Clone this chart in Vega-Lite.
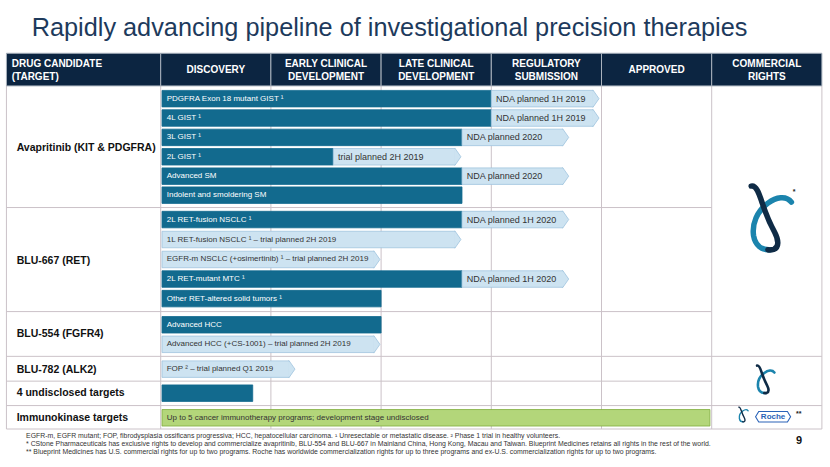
{
  "$schema": "https://vega.github.io/schema/vega-lite/v6.json",
  "width": 830,
  "height": 467,
  "padding": 0,
  "autosize": {"type": "fit", "contains": "padding"},
  "background": "white",
  "config": {
    "view": {"stroke": null},
    "axis": {"disable": true},
    "font": "Liberation Sans",
    "text": {"font": "Liberation Sans"}
  },
  "datasets": {
    "bars": [
      {"r": 0.5, "s": 0.012, "s2": 3.0, "kind": "active", "label": "PDGFRA Exon 18 mutant GIST ¹"},
      {"r": 0.5, "s": 3.0, "s2": 3.925, "kind": "next", "label": "NDA planned 1H 2019"},
      {"r": 1.5, "s": 0.012, "s2": 3.0, "kind": "active", "label": "4L GIST ¹"},
      {"r": 1.5, "s": 3.0, "s2": 3.925, "kind": "next", "label": "NDA planned 1H 2019"},
      {"r": 2.5, "s": 0.012, "s2": 2.734, "kind": "active", "label": "3L GIST ¹"},
      {"r": 2.5, "s": 2.734, "s2": 3.65, "kind": "next", "label": "NDA planned 2020"},
      {"r": 3.5, "s": 0.012, "s2": 1.566, "kind": "active", "label": "2L GIST ¹"},
      {"r": 3.5, "s": 1.566, "s2": 2.672, "kind": "next", "label": "trial planned 2H 2019"},
      {"r": 4.5, "s": 0.012, "s2": 2.734, "kind": "active", "label": "Advanced SM"},
      {"r": 4.5, "s": 2.734, "s2": 3.65, "kind": "next", "label": "NDA planned 2020"},
      {"r": 5.48, "s": 0.012, "s2": 2.734, "kind": "active", "label": "Indolent and smoldering SM"},
      {"r": 6.74, "s": 0.012, "s2": 2.734, "kind": "active", "label": "2L RET-fusion NSCLC ¹"},
      {"r": 6.74, "s": 2.734, "s2": 3.65, "kind": "next", "label": "NDA planned 1H 2020"},
      {"r": 7.77, "s": 0.012, "s2": 2.672, "kind": "planned", "label": "1L RET-fusion NSCLC ¹ – trial planned 2H 2019"},
      {"r": 8.8, "s": 0.012, "s2": 1.937, "kind": "planned", "label": "EGFR-m NSCLC (+osimertinib) ¹ – trial planned 2H 2019"},
      {"r": 9.81, "s": 0.012, "s2": 2.734, "kind": "active", "label": "2L RET-mutant MTC ¹"},
      {"r": 9.81, "s": 2.734, "s2": 3.65, "kind": "next", "label": "NDA planned 1H 2020"},
      {"r": 10.82, "s": 0.012, "s2": 2.0, "kind": "active", "label": "Other RET-altered solid tumors ¹"},
      {"r": 12.17, "s": 0.012, "s2": 2.0, "kind": "active", "label": "Advanced HCC"},
      {"r": 13.18, "s": 0.012, "s2": 1.937, "kind": "planned", "label": "Advanced HCC (+CS-1001) – trial planned 2H 2019"},
      {"r": 14.46, "s": 0.012, "s2": 1.166, "kind": "planned", "label": "FOP ² – trial planned Q1 2019"},
      {"r": 15.7, "s": 0.012, "s2": 0.835, "kind": "active", "label": ""},
      {"r": 16.97, "s": 0.012, "s2": 4.984, "kind": "immuno", "label": "Up to 5 cancer immunotherapy programs; development stage undisclosed"}
    ],
    "headers": [
      {"s": -1.4, "s2": 0, "c": -1.352, "lines": 2, "label": "DRUG CANDIDATE\n(TARGET)"},
      {"s": 0, "s2": 1, "c": 0.5, "lines": 1, "label": "DISCOVERY"},
      {"s": 1, "s2": 2, "c": 1.5, "lines": 2, "label": "EARLY CLINICAL\nDEVELOPMENT"},
      {"s": 2, "s2": 3, "c": 2.5, "lines": 2, "label": "LATE CLINICAL\nDEVELOPMENT"},
      {"s": 3, "s2": 4, "c": 3.5, "lines": 2, "label": "REGULATORY\nSUBMISSION"},
      {"s": 4, "s2": 5, "c": 4.5, "lines": 1, "label": "APPROVED"},
      {"s": 5, "s2": 6, "c": 5.5, "lines": 2, "label": "COMMERCIAL\nRIGHTS"}
    ],
    "grid": [
      {"s": -1.4, "s2": -1.4, "r": -0.157, "r2": 17.55},
      {"s": 0, "s2": 0, "r": -0.157, "r2": 17.55},
      {"s": 1, "s2": 1, "r": -0.157, "r2": 17.55},
      {"s": 2, "s2": 2, "r": -0.157, "r2": 17.55},
      {"s": 3, "s2": 3, "r": -0.157, "r2": 17.55},
      {"s": 4, "s2": 4, "r": -0.157, "r2": 17.55},
      {"s": 5, "s2": 5, "r": -0.157, "r2": 17.55},
      {"s": 6, "s2": 6, "r": -0.157, "r2": 17.55},
      {"s": -1.4, "s2": 5, "r": 6.12, "r2": 6.12},
      {"s": -1.4, "s2": 5, "r": 11.49, "r2": 11.49},
      {"s": -1.4, "s2": 6, "r": 13.8, "r2": 13.8},
      {"s": -1.4, "s2": 5, "r": 15.08, "r2": 15.08},
      {"s": -1.4, "s2": 6, "r": 16.34, "r2": 16.34},
      {"s": -1.4, "s2": 6, "r": 17.55, "r2": 17.55}
    ],
    "drugs": [
      {"r": 3.05, "label": "Avapritinib (KIT & PDGFRA)"},
      {"r": 8.88, "label": "BLU-667 (RET)"},
      {"r": 12.67, "label": "BLU-554 (FGFR4)"},
      {"r": 14.49, "label": "BLU-782 (ALK2)"},
      {"r": 15.7, "label": "4 undisclosed targets"},
      {"r": 16.97, "label": "Immunokinase targets"}
    ],
    "notes": [
      {"r": 17.92, "label": "EGFR-m, EGFR mutant; FOP, fibrodysplasia ossificans progressiva; HCC, hepatocellular carcinoma. ¹ Unresectable or metastatic disease. ² Phase 1 trial in healthy volunteers."},
      {"r": 18.34, "label": "* CStone Pharmaceuticals has exclusive rights to develop and commercialize avapritinib, BLU-554 and BLU-667 in Mainland China, Hong Kong, Macau and Taiwan. Blueprint Medicines retains all rights in the rest of the world."},
      {"r": 18.76, "label": "** Blueprint Medicines has U.S. commercial rights for up to two programs. Roche has worldwide commercialization rights for up to three programs and ex-U.S. commercialization rights for up to two programs."}
    ],
    "logos": [
      {"s": 5.547, "r": 6.62, "logo": "large"},
      {"s": 5.493, "r": 14.97, "logo": "medium"},
      {"s": 5.29, "r": 16.79, "logo": "small"}
    ]
  },
  "layer": [
    {
      "data": {"name": "grid"},
      "mark": {"type": "rule", "stroke": "#cbc2c8", "strokeWidth": 1},
      "encoding": {
        "x": {"field": "s", "type": "quantitative", "scale": {"domain": [-1.4583, 6.0735], "nice": false, "zero": false}},
        "x2": {"field": "s2"},
        "y": {"field": "r", "type": "quantitative", "scale": {"domain": [-4.3333, 19.2525], "nice": false, "zero": false, "reverse": true}},
        "y2": {"field": "r2"}
      }
    },
    {
      "data": {"name": "headers"},
      "mark": {"type": "rect", "fill": "#0c2541", "stroke": "#a9b2bd", "strokeWidth": 1},
      "encoding": {
        "x": {"field": "s", "type": "quantitative"},
        "x2": {"field": "s2"},
        "y": {"datum": -1.843, "type": "quantitative"},
        "y2": {"datum": -0.157}
      }
    },
    {
      "data": {"name": "headers"},
      "transform": [{"filter": "datum.s < 0"}],
      "mark": {"type": "text", "align": "left", "baseline": "middle", "fill": "white", "fontSize": 10, "fontWeight": "bold", "lineBreak": "\n", "lineHeight": 12.6},
      "encoding": {
        "x": {"field": "c", "type": "quantitative"},
        "y": {"datum": -1.27, "type": "quantitative"},
        "text": {"field": "label"}
      }
    },
    {
      "data": {"name": "headers"},
      "transform": [{"filter": "datum.s >= 0 && datum.lines == 2"}],
      "mark": {"type": "text", "align": "center", "baseline": "middle", "fill": "white", "fontSize": 10, "fontWeight": "bold", "lineBreak": "\n", "lineHeight": 12.6},
      "encoding": {
        "x": {"field": "c", "type": "quantitative"},
        "y": {"datum": -1.27, "type": "quantitative"},
        "text": {"field": "label"}
      }
    },
    {
      "data": {"name": "headers"},
      "transform": [{"filter": "datum.lines == 1"}],
      "mark": {"type": "text", "align": "center", "baseline": "middle", "fill": "white", "fontSize": 10, "fontWeight": "bold"},
      "encoding": {
        "x": {"field": "c", "type": "quantitative"},
        "y": {"datum": -0.99, "type": "quantitative"},
        "text": {"field": "label"}
      }
    },
    {
      "data": {"name": "bars"},
      "mark": {"type": "bar", "orient": "horizontal", "size": 16.5, "strokeWidth": 0.8},
      "encoding": {
        "x": {"field": "s", "type": "quantitative"},
        "x2": {"field": "s2"},
        "y": {"field": "r", "type": "quantitative"},
        "fill": {"field": "kind", "type": "nominal", "legend": null, "scale": {"domain": ["active", "planned", "next", "immuno"], "range": ["#126a8e", "#cde3f1", "#cde3f1", "#b3d67a"]}},
        "stroke": {"field": "kind", "type": "nominal", "legend": null, "scale": {"domain": ["active", "planned", "next", "immuno"], "range": ["#126a8e", "#9fc4de", "#9fc4de", "#80ad3e"]}}
      }
    },
    {
      "data": {"name": "bars"},
      "transform": [{"filter": "datum.kind == 'next' || datum.kind == 'planned'"}],
      "mark": {"type": "point", "shape": "M-0.12,-1L0,-1L0.7,0L0,1L-0.12,1", "filled": true, "fill": "#cde3f1", "stroke": "#9fc4de", "strokeWidth": 0.8, "size": 272, "opacity": 1},
      "encoding": {
        "x": {"field": "s2", "type": "quantitative"},
        "y": {"field": "r", "type": "quantitative"}
      }
    },
    {
      "data": {"name": "bars"},
      "transform": [{"filter": "datum.kind == 'active'"}],
      "mark": {"type": "text", "align": "left", "baseline": "middle", "dx": 4.7, "fill": "white", "fontSize": 8},
      "encoding": {
        "x": {"field": "s", "type": "quantitative"},
        "y": {"field": "r", "type": "quantitative"},
        "text": {"field": "label"}
      }
    },
    {
      "data": {"name": "bars"},
      "transform": [{"filter": "datum.kind == 'planned' || datum.kind == 'immuno'"}],
      "mark": {"type": "text", "align": "left", "baseline": "middle", "dx": 4.7, "fill": "#333333", "fontSize": 8},
      "encoding": {
        "x": {"field": "s", "type": "quantitative"},
        "y": {"field": "r", "type": "quantitative"},
        "text": {"field": "label"}
      }
    },
    {
      "data": {"name": "bars"},
      "transform": [{"filter": "datum.kind == 'next'"}],
      "mark": {"type": "text", "align": "left", "baseline": "middle", "dx": 4.7, "fill": "#333333", "fontSize": 9},
      "encoding": {
        "x": {"field": "s", "type": "quantitative"},
        "y": {"field": "r", "type": "quantitative"},
        "text": {"field": "label"}
      }
    },
    {
      "data": {"name": "drugs"},
      "mark": {"type": "text", "align": "left", "baseline": "middle", "fill": "#111111", "fontSize": 10.5, "fontWeight": "bold"},
      "encoding": {
        "x": {"datum": -1.307, "type": "quantitative"},
        "y": {"field": "r", "type": "quantitative"},
        "text": {"field": "label"}
      }
    },
    {
      "data": {"name": "logos"},
      "transform": [{"filter": "datum.logo == 'large'"}],
      "mark": {"type": "point", "shape": "M0.58,-0.45 C0.42,-0.66 0.12,-0.6 -0.12,-0.42 C-0.45,-0.18 -0.6,0.2 -0.55,0.55 C-0.5,0.85 -0.3,0.98 -0.06,0.97", "filled": false, "stroke": "#1b84ad", "strokeWidth": 5.5, "size": 4489, "opacity": 1, "strokeCap": "round"},
      "encoding": {"x": {"field": "s", "type": "quantitative"}, "y": {"field": "r", "type": "quantitative"}}
    },
    {
      "data": {"name": "logos"},
      "transform": [{"filter": "datum.logo == 'large'"}],
      "mark": {"type": "point", "shape": "M-0.62,-0.93 C-0.45,-0.97 -0.36,-0.62 -0.29,-0.42 C-0.2,-0.15 -0.1,0.12 0.08,0.45 C0.2,0.68 0.22,0.9 0.05,0.96 C-0.02,0.98 -0.08,0.98 -0.12,0.97", "filled": false, "stroke": "#0f2b46", "strokeWidth": 5.5, "size": 4489, "opacity": 1, "strokeCap": "round"},
      "encoding": {"x": {"field": "s", "type": "quantitative"}, "y": {"field": "r", "type": "quantitative"}}
    },
    {
      "data": {"name": "logos"},
      "transform": [{"filter": "datum.logo == 'medium'"}],
      "mark": {"type": "point", "shape": "M0.58,-0.45 C0.42,-0.66 0.12,-0.6 -0.12,-0.42 C-0.45,-0.18 -0.6,0.2 -0.55,0.55 C-0.5,0.85 -0.3,0.98 -0.06,0.97", "filled": false, "stroke": "#1b84ad", "strokeWidth": 2.6, "size": 835, "opacity": 1, "strokeCap": "round"},
      "encoding": {"x": {"field": "s", "type": "quantitative"}, "y": {"field": "r", "type": "quantitative"}}
    },
    {
      "data": {"name": "logos"},
      "transform": [{"filter": "datum.logo == 'medium'"}],
      "mark": {"type": "point", "shape": "M-0.62,-0.93 C-0.45,-0.97 -0.36,-0.62 -0.29,-0.42 C-0.2,-0.15 -0.1,0.12 0.08,0.45 C0.2,0.68 0.22,0.9 0.05,0.96 C-0.02,0.98 -0.08,0.98 -0.12,0.97", "filled": false, "stroke": "#0f2b46", "strokeWidth": 2.6, "size": 835, "opacity": 1, "strokeCap": "round"},
      "encoding": {"x": {"field": "s", "type": "quantitative"}, "y": {"field": "r", "type": "quantitative"}}
    },
    {
      "data": {"name": "logos"},
      "transform": [{"filter": "datum.logo == 'small'"}],
      "mark": {"type": "point", "shape": "M0.58,-0.45 C0.42,-0.66 0.12,-0.6 -0.12,-0.42 C-0.45,-0.18 -0.6,0.2 -0.55,0.55 C-0.5,0.85 -0.3,0.98 -0.06,0.97", "filled": false, "stroke": "#1b84ad", "strokeWidth": 1.4, "size": 239, "opacity": 1, "strokeCap": "round"},
      "encoding": {"x": {"field": "s", "type": "quantitative"}, "y": {"field": "r", "type": "quantitative"}}
    },
    {
      "data": {"name": "logos"},
      "transform": [{"filter": "datum.logo == 'small'"}],
      "mark": {"type": "point", "shape": "M-0.62,-0.93 C-0.45,-0.97 -0.36,-0.62 -0.29,-0.42 C-0.2,-0.15 -0.1,0.12 0.08,0.45 C0.2,0.68 0.22,0.9 0.05,0.96 C-0.02,0.98 -0.08,0.98 -0.12,0.97", "filled": false, "stroke": "#0f2b46", "strokeWidth": 1.4, "size": 239, "opacity": 1, "strokeCap": "round"},
      "encoding": {"x": {"field": "s", "type": "quantitative"}, "y": {"field": "r", "type": "quantitative"}}
    },
    {
      "data": {"values": [{"s": 5.557, "r": 16.914}]},
      "mark": {"type": "point", "shape": "M-1,0L-0.82,-0.3L0.82,-0.3L1,0L0.82,0.3L-0.82,0.3Z", "filled": false, "stroke": "#2a63b8", "strokeWidth": 1.1, "size": 1225, "opacity": 1},
      "encoding": {
        "x": {"field": "s", "type": "quantitative"},
        "y": {"field": "r", "type": "quantitative"}
      }
    },
    {
      "data": {"values": [{"s": 5.557, "r": 16.914, "t": "Roche"}]},
      "mark": {"type": "text", "align": "center", "baseline": "middle", "fill": "#2a63b8", "fontSize": 8, "fontWeight": "bold"},
      "encoding": {
        "x": {"field": "s", "type": "quantitative"},
        "y": {"field": "r", "type": "quantitative"},
        "text": {"field": "t"}
      }
    },
    {
      "data": {"values": [{"s": 5.765, "r": 16.76, "t": "**"}, {"s": 5.735, "r": 5.32, "t": "*"}]},
      "mark": {"type": "text", "align": "left", "baseline": "middle", "fill": "#222222", "fontSize": 7, "fontWeight": "bold"},
      "encoding": {
        "x": {"field": "s", "type": "quantitative"},
        "y": {"field": "r", "type": "quantitative"},
        "text": {"field": "t"}
      }
    },
    {
      "data": {"name": "notes"},
      "mark": {"type": "text", "align": "left", "baseline": "middle", "fill": "#333333", "fontSize": 6.9},
      "encoding": {
        "x": {"datum": -1.222, "type": "quantitative"},
        "y": {"field": "r", "type": "quantitative"},
        "text": {"field": "label"}
      }
    },
    {
      "data": {"values": [{"s": 5.792, "r": 18.18, "t": "9"}]},
      "mark": {"type": "text", "align": "center", "baseline": "middle", "fill": "#111111", "fontSize": 11, "fontWeight": "bold"},
      "encoding": {
        "x": {"field": "s", "type": "quantitative"},
        "y": {"field": "r", "type": "quantitative"},
        "text": {"field": "t"}
      }
    },
    {
      "data": {"values": [{"s": -1.171, "r": -2.75, "t": "Rapidly advancing pipeline of investigational precision therapies"}]},
      "mark": {"type": "text", "align": "left", "baseline": "alphabetic", "fill": "#1d3a5c", "fontSize": 25.3},
      "encoding": {
        "x": {"field": "s", "type": "quantitative"},
        "y": {"field": "r", "type": "quantitative"},
        "text": {"field": "t"}
      }
    }
  ]
}
